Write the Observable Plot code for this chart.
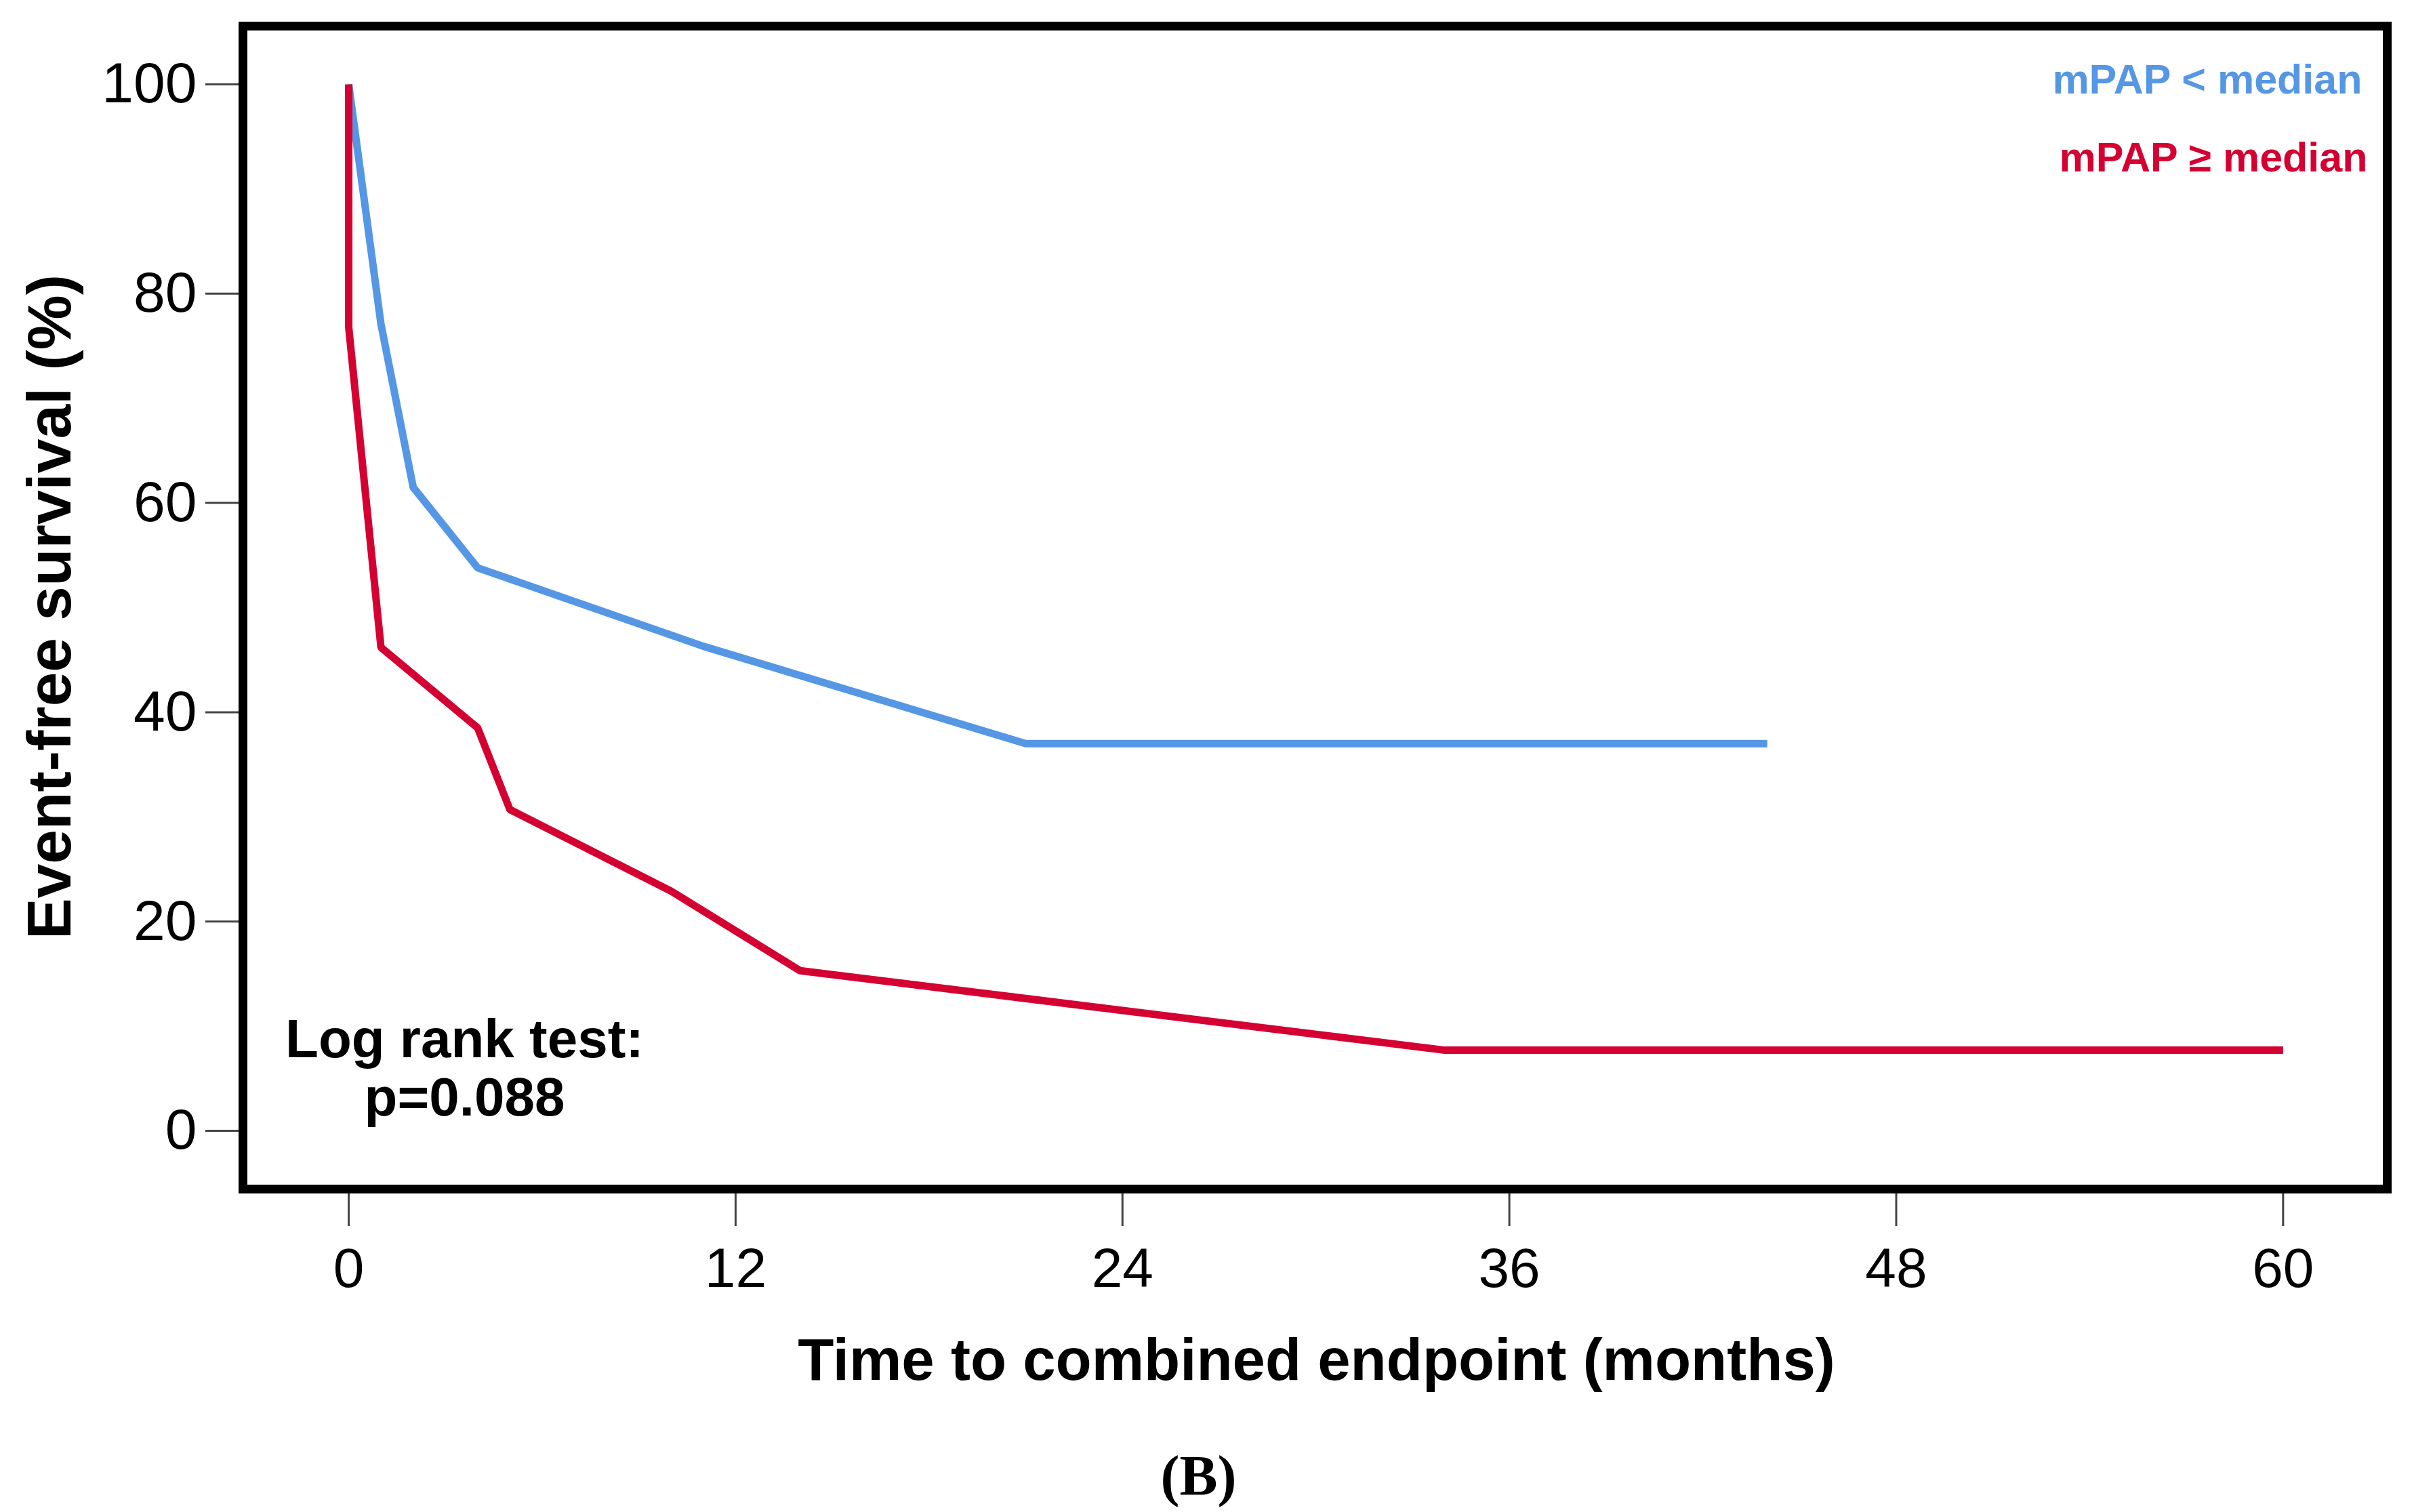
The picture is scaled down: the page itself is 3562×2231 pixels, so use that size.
<!DOCTYPE html>
<html>
<head>
<meta charset="utf-8">
<script src="https://cdn.jsdelivr.net/npm/d3@7"></script>
<script src="https://cdn.jsdelivr.net/npm/@observablehq/plot@0.6"></script>
<style>
  html, body { margin: 0; padding: 0; background: #ffffff; }
  #chart svg { display: block; }
</style>
</head>
<body>
<div id="chart"></div>
<script>
// ---- data ----
const lowMonths = [0, 1, 2, 4, 11, 21, 44];
const lowSurvival = [100, 77.1, 61.5, 53.8, 46.3, 37.0, 37.0];

const highMonths = [0, 0, 1, 4, 5, 10, 14, 34, 60];
const highSurvival = [100, 76.8, 46.2, 38.5, 30.7, 22.9, 15.3, 7.7, 7.7];

const seriesNames = ["mPAP < median", "mPAP \u2265 median"];
const seriesColors = ["#5597E5", "#D50032"];

const xTicks = [0, 12, 24, 36, 48, 60];
const yTicks = [0, 20, 40, 60, 80, 100];

const xTitle = "Time to combined endpoint (months)";
const yTitle = "Event-free survival (%)";
const testLabel = "Log rank test:\np=0.088";
const panelLabel = "(B)";

// ---- tables built from the arrays ----
const lowData = lowMonths.map((m, i) => ({month: m, survival: lowSurvival[i]}));
const highData = highMonths.map((m, i) => ({month: m, survival: highSurvival[i]}));

const W = 3562, H = 2231;
const sans = "'Liberation Sans', Arial, Helvetica, sans-serif";

const chart = Plot.plot({
  width: W,
  height: H,
  marginLeft: 358,
  marginTop: 38,
  marginRight: 40,
  marginBottom: 477,
  style: {fontFamily: sans, background: "#ffffff", color: "#000000", overflow: "visible"},
  x: {domain: [-3.28, 63.23], label: null},
  y: {domain: [-5.57, 105.57], label: null},
  marks: [
    Plot.axisX({ticks: xTicks, tickSize: 55, tickPadding: 31, fontSize: 82,
                stroke: "#444444", strokeWidth: 3, fill: "#000000", tickFormat: d => String(d)}),
    Plot.axisY({ticks: yTicks, tickSize: 55, tickPadding: 13, fontSize: 84,
                stroke: "#444444", strokeWidth: 3, fill: "#000000", tickFormat: d => String(d)}),
    Plot.line(lowData, {x: "month", y: "survival", stroke: seriesColors[0], strokeWidth: 11,
                        strokeLinejoin: "miter", strokeLinecap: "butt"}),
    Plot.line(highData, {x: "month", y: "survival", stroke: seriesColors[1], strokeWidth: 11,
                         strokeLinejoin: "miter", strokeLinecap: "butt"}),
    Plot.frame({stroke: "#000000", strokeWidth: 13}),
    // legend labels
    Plot.text([seriesNames[0]], {frameAnchor: "top-right", text: d => d, textAnchor: "end",
      lineAnchor: "bottom", dx: -37, dy: 99, fontSize: 61, fontWeight: "bold", fill: seriesColors[0]}),
    Plot.text([seriesNames[1]], {frameAnchor: "top-right", text: d => d, textAnchor: "end",
      lineAnchor: "bottom", dx: -29, dy: 214, fontSize: 61, fontWeight: "bold", fill: seriesColors[1]}),
    // log rank annotation
    Plot.text([testLabel], {frameAnchor: "bottom-left", text: d => d, textAnchor: "middle",
      lineAnchor: "bottom", lineHeight: 1.075, dx: 327, dy: -109, fontSize: 80, fontWeight: "bold", fill: "#000000"}),
    // axis titles
    Plot.text([xTitle], {frameAnchor: "bottom", text: d => d, textAnchor: "middle",
      lineAnchor: "bottom", dx: 2, dy: 281, fontSize: 87, fontWeight: "bold", fill: "#000000"}),
    Plot.text([yTitle], {frameAnchor: "left", text: d => d, textAnchor: "middle", rotate: -90,
      lineAnchor: "bottom", dx: -255, dy: -1, fontSize: 91, fontWeight: "bold", fill: "#000000"}),
    // panel label
    Plot.text([panelLabel], {frameAnchor: "bottom", text: d => d, textAnchor: "middle",
      lineAnchor: "bottom", dx: -172, dy: 451, fontSize: 84, fontWeight: "bold",
      fontFamily: "'Liberation Serif', 'Times New Roman', serif", fill: "#000000"})
  ]
});

document.getElementById("chart").appendChild(chart);
</script>
</body>
</html>
